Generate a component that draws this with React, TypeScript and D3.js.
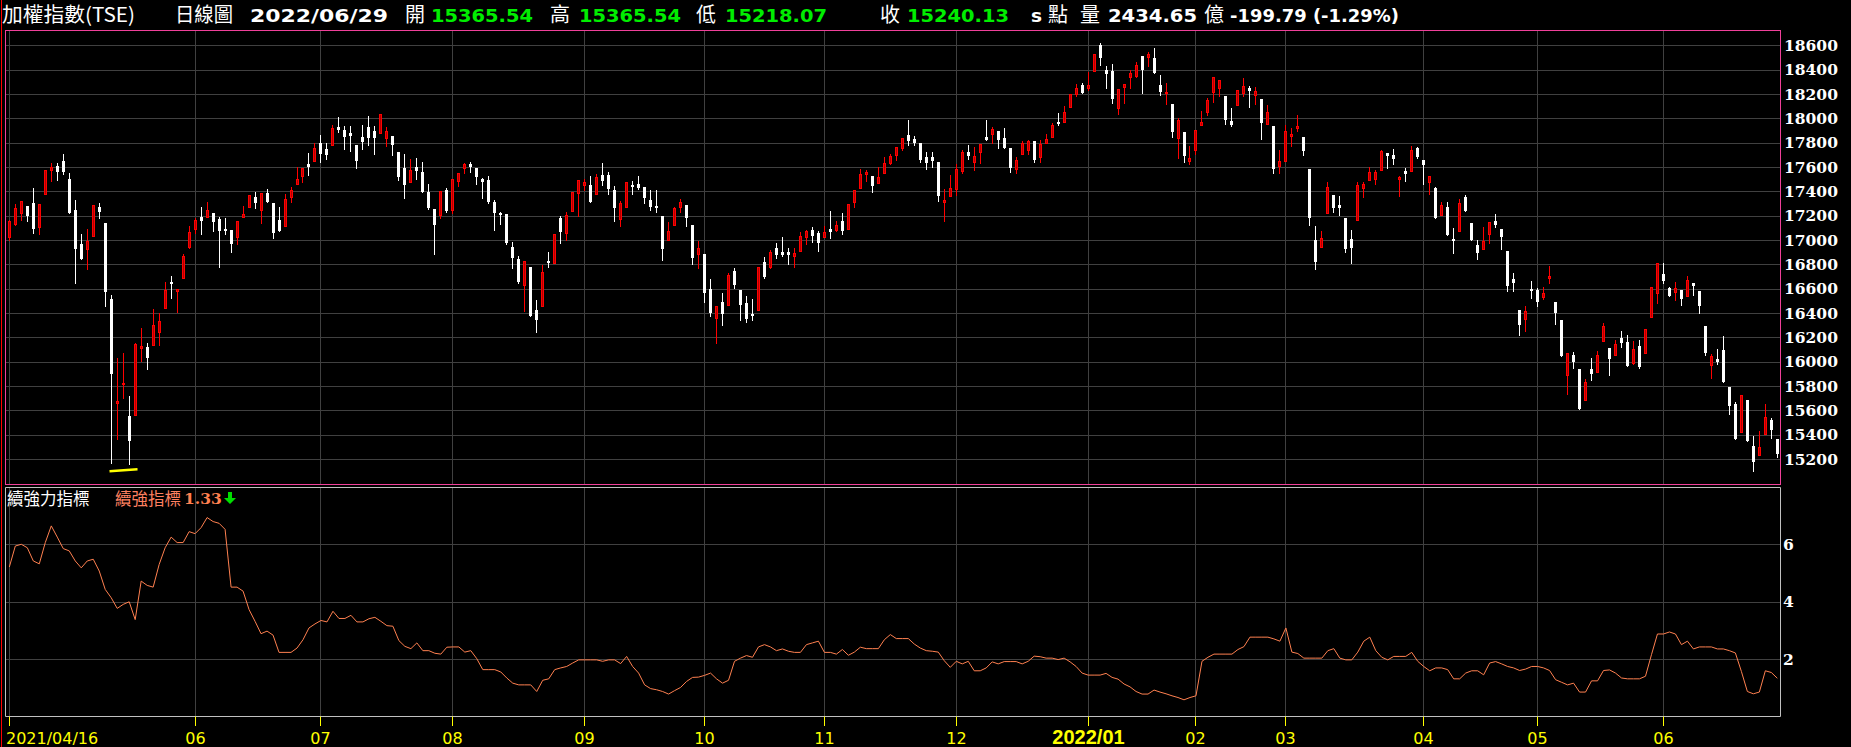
/* eslint-disable */
import React, { useEffect, useRef } from 'react';
import * as d3 from 'd3';

// ------- Daily candles (TAIEX, 2021/04 .. 2022/06/29) -------
const opens = [
  17023, 17133, 17226, 17278, 17305, 17108, 17374, 17579, 17612, 17653,
  17502, 17248, 16968, 16922, 17029, 17272, 17138, 16517, 15660, 15813,
  15553, 15561, 16109, 16120, 16136, 16243, 16437, 16651, 16582, 16684,
  16941, 17094, 17190, 17193, 17220, 17174, 17092, 17083, 17023, 17193,
  17275, 17354, 17250, 17387, 17305, 17166, 17119, 17357, 17464, 17530,
  17625, 17647, 17798, 17749, 17779, 17929, 17905, 17880, 17781, 17847,
  17929, 17896, 17877, 17836, 17855, 17724, 17593, 17480, 17601, 17560,
  17396, 17256, 17209, 17412, 17250, 17483, 17590, 17625, 17593, 17502,
  17494, 17313, 17226, 17212, 16944, 16845, 16629, 16780, 16424, 16454,
  16829, 16815, 17182, 17056, 17242, 17385, 17456, 17453, 17376, 17535,
  17535, 17409, 17171, 17270, 17453, 17461, 17437, 17330, 17281, 17198,
  16999, 17127, 17272, 17289, 17125, 16881, 16886, 16599, 16355, 16492,
  16462, 16747, 16591, 16484, 16394, 16421, 16821, 16780, 16936, 16903,
  16903, 16870, 16908, 17026, 17083, 17059, 17021, 17092, 17083, 17157,
  17094, 17316, 17431, 17543, 17527, 17469, 17552, 17636, 17702, 17757,
  17864, 17831, 17798, 17683, 17683, 17642, 17316, 17365, 17420, 17571,
  17724, 17645, 17727, 17847, 17872, 17896, 17839, 17757, 17587, 17710,
  17740, 17814, 17683, 17798, 17850, 17970, 17973, 18096, 18203, 18274,
  18252, 18392, 18603, 18400, 18392, 18088, 18261, 18343, 18345, 18510,
  18507, 18493, 18272, 18209, 18118, 17842, 17888, 17653, 17743, 17948,
  18055, 18214, 18252, 18184, 17976, 18107, 18211, 18247, 18195, 18159,
  17951, 17938, 17612, 17653, 17858, 17924, 17847, 17584, 17001, 16941,
  17220, 17371, 17289, 17182, 17010, 17168, 17431, 17497, 17505, 17579,
  17716, 17699, 17505, 17568, 17571, 17757, 17658, 17480, 17428, 17209,
  17272, 17010, 17078, 17354, 17141, 16960, 16925, 17053, 17157, 17092,
  16911, 16681, 16427, 16347, 16599, 16591, 16531, 16689, 16492, 16344,
  15887, 16054, 15942, 15682, 15942, 15914, 16169, 16114, 16054, 16197,
  16164, 15986, 16128, 16071, 16366, 16563, 16722, 16607, 16569, 16588,
  16536, 16645, 16580, 16292, 15972, 16021, 16098, 15794, 15649, 15419,
  15687, 15310, 15233, 15403, 15523, 15365.54,
];
const highs = [
  17168, 17297, 17324, 17278, 17428, 17297, 17573, 17634, 17634, 17708,
  17552, 17330, 17051, 17092, 17286, 17305, 17138, 16552, 16032, 16073,
  15717, 16155, 16279, 16155, 16435, 16396, 16656, 16706, 16596, 16886,
  17114, 17182, 17272, 17313, 17220, 17190, 17182, 17083, 17155, 17283,
  17368, 17396, 17385, 17420, 17305, 17272, 17379, 17437, 17598, 17593,
  17716, 17798, 17866, 17798, 17943, 18011, 17938, 17938, 17781, 17946,
  18020, 17938, 18033, 17929, 17855, 17724, 17708, 17669, 17675, 17642,
  17461, 17256, 17401, 17428, 17502, 17549, 17634, 17642, 17593, 17510,
  17527, 17330, 17234, 17212, 16985, 16867, 16826, 16780, 16509, 16791,
  16903, 17048, 17201, 17231, 17393, 17491, 17502, 17527, 17543, 17634,
  17560, 17445, 17322, 17475, 17486, 17527, 17437, 17412, 17412, 17198,
  17149, 17272, 17338, 17289, 17125, 16990, 16886, 16681, 16457, 16566,
  16730, 16771, 16591, 16541, 16517, 16777, 16862, 16919, 16977, 17026,
  16936, 16936, 17067, 17083, 17108, 17075, 17116, 17240, 17157, 17223,
  17297, 17412, 17584, 17576, 17527, 17601, 17683, 17708, 17765, 17839,
  17987, 17855, 17798, 17724, 17724, 17642, 17420, 17535, 17625, 17740,
  17781, 17765, 17792, 17987, 17929, 17896, 17921, 17757, 17683, 17814,
  17822, 17814, 17822, 17872, 17962, 18044, 18102, 18200, 18282, 18291,
  18381, 18526, 18619, 18433, 18447, 18239, 18285, 18395, 18460, 18510,
  18543, 18575, 18356, 18291, 18118, 18000, 17888, 17773, 17905, 18058,
  18167, 18337, 18313, 18184, 18085, 18230, 18329, 18263, 18255, 18159,
  18110, 17938, 17740, 17943, 17921, 18025, 17847, 17584, 17116, 17075,
  17478, 17371, 17363, 17182, 17083, 17478, 17478, 17598, 17576, 17740,
  17716, 17749, 17527, 17593, 17773, 17765, 17658, 17527, 17437, 17313,
  17313, 17100, 17338, 17371, 17141, 17001, 17108, 17146, 17215, 17092,
  16911, 16730, 16427, 16459, 16665, 16607, 16615, 16788, 16492, 16344,
  16073, 16082, 15942, 15860, 16032, 16090, 16320, 16114, 16175, 16254,
  16221, 16172, 16180, 16268, 16613, 16810, 16810, 16615, 16656, 16588,
  16708, 16645, 16580, 16292, 16065, 16106, 16213, 15794, 15668, 15726,
  15687, 15386, 15427, 15655, 15534, 15365.54,
];
const lows = [
  16996, 17122, 17168, 17160, 17059, 17051, 17374, 17489, 17497, 17543,
  17218, 16643, 16840, 16758, 17029, 17182, 16454, 15164, 15362, 15698,
  15156, 15561, 16005, 15936, 16136, 16134, 16437, 16520, 16410, 16684,
  16936, 17059, 17051, 17193, 17078, 16777, 17053, 16905, 16968, 17193,
  17275, 17264, 17141, 17316, 17018, 17070, 17119, 17316, 17464, 17478,
  17538, 17647, 17639, 17669, 17779, 17888, 17751, 17735, 17595, 17751,
  17784, 17710, 17877, 17776, 17702, 17497, 17346, 17480, 17505, 17398,
  17256, 16889, 17182, 17231, 17223, 17447, 17552, 17560, 17464, 17349,
  17300, 17086, 17135, 16971, 16766, 16648, 16413, 16372, 16240, 16454,
  16774, 16815, 16979, 16996, 17242, 17201, 17412, 17316, 17376, 17456,
  17382, 17160, 17119, 17270, 17382, 17423, 17308, 17250, 17234, 16832,
  16999, 17127, 17234, 17111, 16799, 16766, 16492, 16372, 16155, 16298,
  16462, 16602, 16344, 16322, 16344, 16421, 16689, 16766, 16848, 16870,
  16799, 16782, 16908, 16968, 16985, 16911, 17021, 17018, 17075, 17051,
  17094, 17272, 17431, 17486, 17396, 17469, 17552, 17625, 17661, 17743,
  17781, 17781, 17642, 17584, 17601, 17322, 17157, 17365, 17371, 17554,
  17666, 17576, 17634, 17825, 17798, 17757, 17757, 17560, 17552, 17710,
  17708, 17642, 17642, 17798, 17850, 17946, 17973, 18096, 18187, 18211,
  18236, 18392, 18441, 18252, 18129, 18039, 18129, 18252, 18340, 18211,
  18433, 18376, 18195, 18121, 17850, 17677, 17645, 17628, 17710, 17948,
  18031, 18137, 18187, 17957, 17940, 18107, 18187, 18096, 18121, 17833,
  17951, 17554, 17554, 17653, 17776, 17899, 17702, 17127, 16758, 16941,
  17220, 17234, 17209, 16905, 16807, 17168, 17357, 17497, 17464, 17579,
  17593, 17628, 17365, 17489, 17571, 17677, 17464, 17374, 17177, 17209,
  17045, 16897, 17078, 17242, 16996, 16840, 16925, 16979, 17103, 16922,
  16577, 16577, 16216, 16249, 16520, 16459, 16511, 16643, 16306, 16043,
  15731, 15945, 15608, 15682, 15849, 15914, 16169, 15887, 16054, 16117,
  15961, 15977, 15945, 16071, 16366, 16484, 16645, 16536, 16503, 16462,
  16536, 16552, 16396, 16051, 15863, 15980, 15830, 15567, 15362, 15419,
  15345, 15099, 15233, 15403, 15373, 15218.07,
];
const closes = [
  17155, 17264, 17319, 17201, 17092, 17297, 17573, 17598, 17560, 17560,
  17218, 16930, 16840, 16990, 17286, 17231, 16574, 15895, 15673, 15827,
  15348, 16147, 16128, 16032, 16301, 16333, 16593, 16643, 16596, 16867,
  17067, 17163, 17160, 17245, 17144, 17078, 17070, 16963, 17155, 17215,
  17368, 17300, 17385, 17316, 17059, 17070, 17335, 17409, 17500, 17593,
  17598, 17757, 17710, 17699, 17921, 17907, 17850, 17858, 17653, 17809,
  17842, 17842, 18033, 17894, 17784, 17521, 17456, 17576, 17571, 17398,
  17264, 17127, 17401, 17242, 17502, 17549, 17623, 17598, 17521, 17480,
  17316, 17226, 17220, 16979, 16853, 16656, 16826, 16372, 16339, 16736,
  16815, 17048, 17062, 17204, 17393, 17491, 17478, 17316, 17516, 17489,
  17423, 17267, 17302, 17475, 17437, 17431, 17349, 17275, 17275, 16922,
  17073, 17264, 17313, 17177, 16848, 16936, 16566, 16402, 16457, 16388,
  16714, 16634, 16462, 16347, 16380, 16777, 16697, 16903, 16878, 16878,
  16878, 16895, 17034, 17075, 17034, 16979, 17067, 17062, 17125, 17075,
  17297, 17412, 17543, 17560, 17445, 17519, 17634, 17691, 17765, 17839,
  17814, 17798, 17658, 17634, 17650, 17363, 17330, 17428, 17584, 17724,
  17691, 17691, 17792, 17825, 17913, 17823, 17757, 17593, 17658, 17795,
  17814, 17658, 17792, 17831, 17946, 17954, 18053, 18200, 18250, 18211,
  18274, 18526, 18499, 18367, 18162, 18239, 18285, 18370, 18436, 18400,
  18529, 18376, 18219, 18217, 17891, 17984, 17691, 17675, 17905, 17968,
  18151, 18337, 18313, 17990, 17948, 18230, 18263, 18228, 18222, 17965,
  18050, 17587, 17647, 17894, 17872, 17938, 17735, 17177, 16823, 17018,
  17437, 17261, 17259, 16922, 16938, 17453, 17464, 17560, 17560, 17732,
  17694, 17669, 17519, 17546, 17740, 17686, 17620, 17527, 17177, 17289,
  17045, 16988, 17305, 17242, 16996, 16897, 16990, 17146, 17127, 17021,
  16618, 16643, 16298, 16416, 16585, 16492, 16563, 16700, 16402, 16043,
  16068, 16000, 15608, 15835, 15895, 16054, 16295, 16019, 16142, 16150,
  15961, 16103, 15958, 16268, 16613, 16810, 16667, 16541, 16607, 16511,
  16670, 16618, 16454, 16068, 16046, 15994, 15830, 15635, 15362, 15726,
  15345, 15173, 15299, 15545, 15441, 15240.13,
];

// ------- 續強指標 -------
const strength = [
  5.20, 5.93, 5.99, 5.87, 5.41, 5.31, 6.05, 6.63, 6.24, 5.84,
  5.76, 5.41, 5.17, 5.41, 5.47, 5.06, 4.42, 4.13, 3.76, 3.90,
  3.99, 3.37, 4.71, 4.56, 4.50, 5.29, 5.87, 6.24, 6.05, 6.05,
  6.43, 6.36, 6.57, 6.92, 6.78, 6.72, 6.51, 4.50, 4.50, 4.36,
  3.72, 3.31, 2.88, 2.97, 2.83, 2.23, 2.23, 2.23, 2.38, 2.67,
  3.08, 3.22, 3.34, 3.29, 3.66, 3.41, 3.41, 3.52, 3.29, 3.29,
  3.40, 3.45, 3.31, 3.16, 3.14, 2.64, 2.44, 2.36, 2.56, 2.29,
  2.29, 2.20, 2.17, 2.41, 2.42, 2.42, 2.24, 2.29, 2.01, 1.63,
  1.63, 1.63, 1.55, 1.34, 1.16, 1.10, 1.10, 1.10, 0.87, 1.26,
  1.31, 1.63, 1.69, 1.74, 1.86, 1.97, 1.97, 1.97, 1.97, 1.92,
  1.97, 1.97, 1.84, 2.09, 1.74, 1.51, 1.10, 0.97, 0.93, 0.87,
  0.78, 0.90, 1.01, 1.22, 1.36, 1.37, 1.43, 1.51, 1.31, 1.16,
  1.26, 1.92, 2.03, 2.12, 2.06, 2.42, 2.50, 2.42, 2.29, 2.35,
  2.27, 2.23, 2.23, 2.50, 2.56, 2.62, 2.23, 2.23, 2.17, 2.33,
  2.13, 2.24, 2.41, 2.36, 2.36, 2.36, 2.67, 2.85, 2.71, 2.71,
  2.71, 2.52, 2.38, 2.29, 2.27, 2.24, 1.94, 1.71, 1.92, 1.83,
  1.92, 1.59, 1.59, 1.69, 1.90, 1.83, 1.91, 1.91, 1.91, 1.83,
  1.92, 2.10, 2.08, 2.03, 2.03, 1.98, 2.03, 1.90, 1.74, 1.51,
  1.44, 1.44, 1.44, 1.50, 1.36, 1.30, 1.13, 1.03, 0.87, 0.78,
  0.78, 0.92, 0.85, 0.79, 0.72, 0.66, 0.58, 0.66, 0.72, 1.92,
  2.06, 2.17, 2.17, 2.17, 2.17, 2.33, 2.43, 2.76, 2.76, 2.76,
  2.76, 2.70, 2.62, 3.08, 2.24, 2.19, 2.03, 2.03, 2.03, 2.03,
  2.29, 2.36, 2.03, 1.97, 1.97, 2.24, 2.62, 2.76, 2.29, 2.06,
  1.97, 2.09, 2.09, 2.09, 2.23, 1.92, 1.74, 1.59, 1.69, 1.69,
  1.63, 1.31, 1.31, 1.51, 1.59, 1.59, 1.45, 1.86, 1.91, 1.83,
  1.74, 1.69, 1.60, 1.65, 1.74, 1.74, 1.69, 1.60, 1.28, 1.19,
  1.10, 1.16, 0.85, 0.85, 1.24, 1.24, 1.60, 1.62, 1.51, 1.34,
  1.31, 1.31, 1.31, 1.40, 2.15, 2.87, 2.87, 2.94, 2.87, 2.50,
  2.62, 2.35, 2.42, 2.42, 2.42, 2.35, 2.35, 2.29, 2.21, 1.57,
  0.87, 0.79, 0.85, 1.59, 1.53, 1.33,
];

// ------- Axes -------
const monthIdx = [0, 31, 52, 74, 96, 116, 136, 158, 180, 198, 213, 236, 255, 276];
const monthLabels = ['2021/04/16', '06', '07', '08', '09', '10', '11', '12', '2022/01', '02', '03', '04', '05', '06'];
const priceTicks = [15200, 15400, 15600, 15800, 16000, 16200, 16400, 16600, 16800, 17000, 17200, 17400, 17600, 17800, 18000, 18200, 18400, 18600];
const strengthTicks = [2, 4, 6];

// ------- Header -------
const quoteDate = '2022/06/29';
const quoteOpen = '15365.54';
const quoteHigh = '15365.54';
const quoteLow = '15218.07';
const quoteClose = '15240.13';
const quoteVolume = '2434.65';
const quoteChange = '-199.79 (-1.29%)';

const CJK = '"Noto Sans CJK TC", sans-serif';
const NUM = '"DejaVu Sans", sans-serif';
const AXIS = '"DejaVu Serif", serif';

const App = () => {
  const ref = useRef<SVGSVGElement>(null);

  useEffect(() => {
    if (!ref.current) return;
    const svg = d3.select(ref.current);
    svg.selectAll('*').remove();

    const width = 1851;
    const height = 747;
    const left = 5.5;
    const right = 1780.5;
    const mainTop = 30.5;
    const mainBottom = 484.5;
    const subTop = 487.5;
    const subBottom = 716.5;

    svg.append('rect').attr('width', width).attr('height', height).attr('fill', '#000');

    // ------- Scales -------
    const n = closes.length;
    const x = d3.scaleLinear().domain([0, n - 1]).range([9.33, 1777.33]);
    const cx = (i: number) => Math.floor(x(i)) + 0.5;
    const y = d3.scaleLinear().domain([15200, 18600]).range([459, 45.33]);
    const ys = d3.scaleLinear().domain([0, 8]).range([716.5, 486.5]);

    const grid = svg.append('g').attr('stroke', '#404040').attr('stroke-width', 1);

    // horizontal grid
    priceTicks.forEach((v) => {
      const yy = Math.round(y(v)) + 0.5;
      grid.append('line').attr('x1', left).attr('x2', right).attr('y1', yy).attr('y2', yy);
    });
    strengthTicks.forEach((v) => {
      const yy = Math.round(ys(v)) + 0.5;
      grid.append('line').attr('x1', left).attr('x2', right).attr('y1', yy).attr('y2', yy);
    });
    // vertical month grid
    monthIdx.forEach((i) => {
      grid.append('line').attr('x1', cx(i)).attr('x2', cx(i)).attr('y1', mainTop).attr('y2', mainBottom);
      grid.append('line').attr('x1', cx(i)).attr('x2', cx(i)).attr('y1', subTop).attr('y2', subBottom);
    });

    // ------- Panel borders -------
    svg.append('rect')
      .attr('x', left).attr('y', mainTop)
      .attr('width', right - left).attr('height', mainBottom - mainTop)
      .attr('fill', 'none').attr('stroke', '#f0409a');
    svg.append('path')
      .attr('d', `M${left},${subBottom}V${subTop}H${right}V${subBottom}H${left}`)
      .attr('fill', 'none').attr('stroke', '#c0c0c0');
    svg.append('line')
      .attr('x1', 1.5).attr('x2', 1.5).attr('y1', 0).attr('y2', height)
      .attr('stroke', '#ff0000');

    // ------- Candles -------
    const candles = d3.range(n).map((i) => ({
      i, o: opens[i], h: highs[i], l: lows[i], c: closes[i],
    }));
    const cg = svg.append('g');
    candles.forEach((d) => {
      const up = d.c >= d.o;
      const col = up ? '#ff0000' : '#ffffff';
      const xc = cx(d.i);
      cg.append('line')
        .attr('x1', xc).attr('x2', xc)
        .attr('y1', Math.round(y(d.h))).attr('y2', Math.round(y(d.l)) + 1)
        .attr('stroke', col);
      const top = Math.round(y(Math.max(d.o, d.c)));
      const bot = Math.round(y(Math.min(d.o, d.c)));
      if (up) {
        cg.append('rect')
          .attr('x', xc - 1).attr('y', top + 0.5)
          .attr('width', 2).attr('height', Math.max(bot - top, 1))
          .attr('fill', '#b00000').attr('stroke', '#ff0000');
      } else {
        cg.append('rect')
          .attr('x', xc - 1.5).attr('y', top)
          .attr('width', 3).attr('height', Math.max(bot - top, 2))
          .attr('fill', '#ffffff');
      }
    });

    // low marker under the 2021/05 bottom
    const lowIdx = d3.minIndex(lows.slice(0, 60));
    const yMark = y(lows[lowIdx]) + 6;
    svg.append('line')
      .attr('x1', cx(lowIdx - 3) - 2).attr('x2', cx(lowIdx + 1) + 2)
      .attr('y1', yMark + 1).attr('y2', yMark - 1)
      .attr('stroke', '#ffff00').attr('stroke-width', 2.5);

    // ------- Right axis -------
    svg.append('g').selectAll('text')
      .data(priceTicks)
      .enter()
      .append('text')
      .attr('x', 1784)
      .attr('y', (d) => y(d))
      .attr('dy', '0.36em')
      .attr('fill', '#ffffff')
      .attr('font-family', AXIS)
      .attr('font-weight', 'bold')
      .attr('font-size', 15.5)
      .text((d) => d);

    svg.append('g').selectAll('text')
      .data(strengthTicks)
      .enter()
      .append('text')
      .attr('x', 1783)
      .attr('y', (d) => ys(d))
      .attr('dy', '0.36em')
      .attr('fill', '#ffffff')
      .attr('font-family', AXIS)
      .attr('font-weight', 'bold')
      .attr('font-size', 15.5)
      .text((d) => d);

    // ------- Strength line -------
    const line = d3.line<number>()
      .x((_, i) => x(i))
      .y((v) => ys(v));
    svg.append('path')
      .datum(strength)
      .attr('fill', 'none')
      .attr('stroke', '#ff8050')
      .attr('stroke-width', 1)
      .attr('d', line);

    // ------- X axis -------
    monthIdx.forEach((i, k) => {
      svg.append('line')
        .attr('x1', cx(i)).attr('x2', cx(i))
        .attr('y1', subBottom).attr('y2', 726)
        .attr('stroke', '#ffff00');
      const first = k === 0;
      const bold = monthLabels[k].length === 7;
      svg.append('text')
        .attr('x', first ? 6 : cx(i))
        .attr('y', 743.5)
        .attr('text-anchor', first ? 'start' : 'middle')
        .attr('fill', '#ffff00')
        .attr('font-family', bold ? '"Liberation Sans", sans-serif' : NUM)
        .attr('font-weight', bold ? 'bold' : 'normal')
        .attr('font-size', bold ? 20 : 16)
        .text(monthLabels[k]);
    });

    // ------- Sub panel legend -------
    svg.append('text')
      .attr('x', 7).attr('y', 505)
      .attr('fill', '#ffffff').attr('font-family', CJK).attr('font-size', 16.5)
      .text('續強力指標');
    svg.append('text')
      .attr('x', 115).attr('y', 505)
      .attr('fill', '#ff8060').attr('font-family', CJK).attr('font-size', 16.5)
      .text('續強指標');
    svg.append('text')
      .attr('x', 184).attr('y', 504)
      .attr('fill', '#ff8050').attr('font-family', AXIS).attr('font-weight', 'bold').attr('font-size', 15.5)
      .text(d3.format('.2f')(strength[n - 1]));
    svg.append('path')
      .attr('d', 'M228,492h4v6h4l-6,6l-6,-6h4z')
      .attr('fill', '#00dd00');

    // ------- Header -------
    const head = svg.append('g');
    const put = (tx: number, s: string, color: string, cjk: boolean, len?: number) => {
      const t = head.append('text')
        .attr('x', tx).attr('y', 22)
        .attr('fill', color)
        .attr('font-family', cjk ? CJK : NUM)
        .attr('font-weight', cjk ? 'normal' : 'bold')
        .attr('font-size', cjk ? 20 : 18.5)
        .text(s);
      if (len) t.attr('textLength', len).attr('lengthAdjust', 'spacingAndGlyphs');
    };
    put(2, '加權指數(TSE)', '#ffffff', true, 133);
    put(175, '日線圖', '#ffffff', true, 58);
    put(250, quoteDate, '#ffffff', false, 138);
    put(405, '開', '#ffffff', true);
    put(431, quoteOpen, '#00ee00', false, 102);
    put(550, '高', '#ffffff', true);
    put(579, quoteHigh, '#00ee00', false, 102);
    put(696, '低', '#ffffff', true);
    put(725, quoteLow, '#00ee00', false, 102);
    put(880, '收', '#ffffff', true);
    put(907, quoteClose, '#00ee00', false, 102);
    put(1031, 's', '#ffffff', false);
    put(1048, '點', '#ffffff', true);
    put(1080, '量', '#ffffff', true);
    put(1108, quoteVolume, '#ffffff', false, 89);
    put(1204, '億', '#ffffff', true);
    put(1230, quoteChange, '#ffffff', false, 169);
  }, []);

  return (
    <svg
      ref={ref}
      width={1851}
      height={747}
      style={{ position: 'absolute', left: 0, top: 0, display: 'block' }}
    />
  );
};

export default App;
